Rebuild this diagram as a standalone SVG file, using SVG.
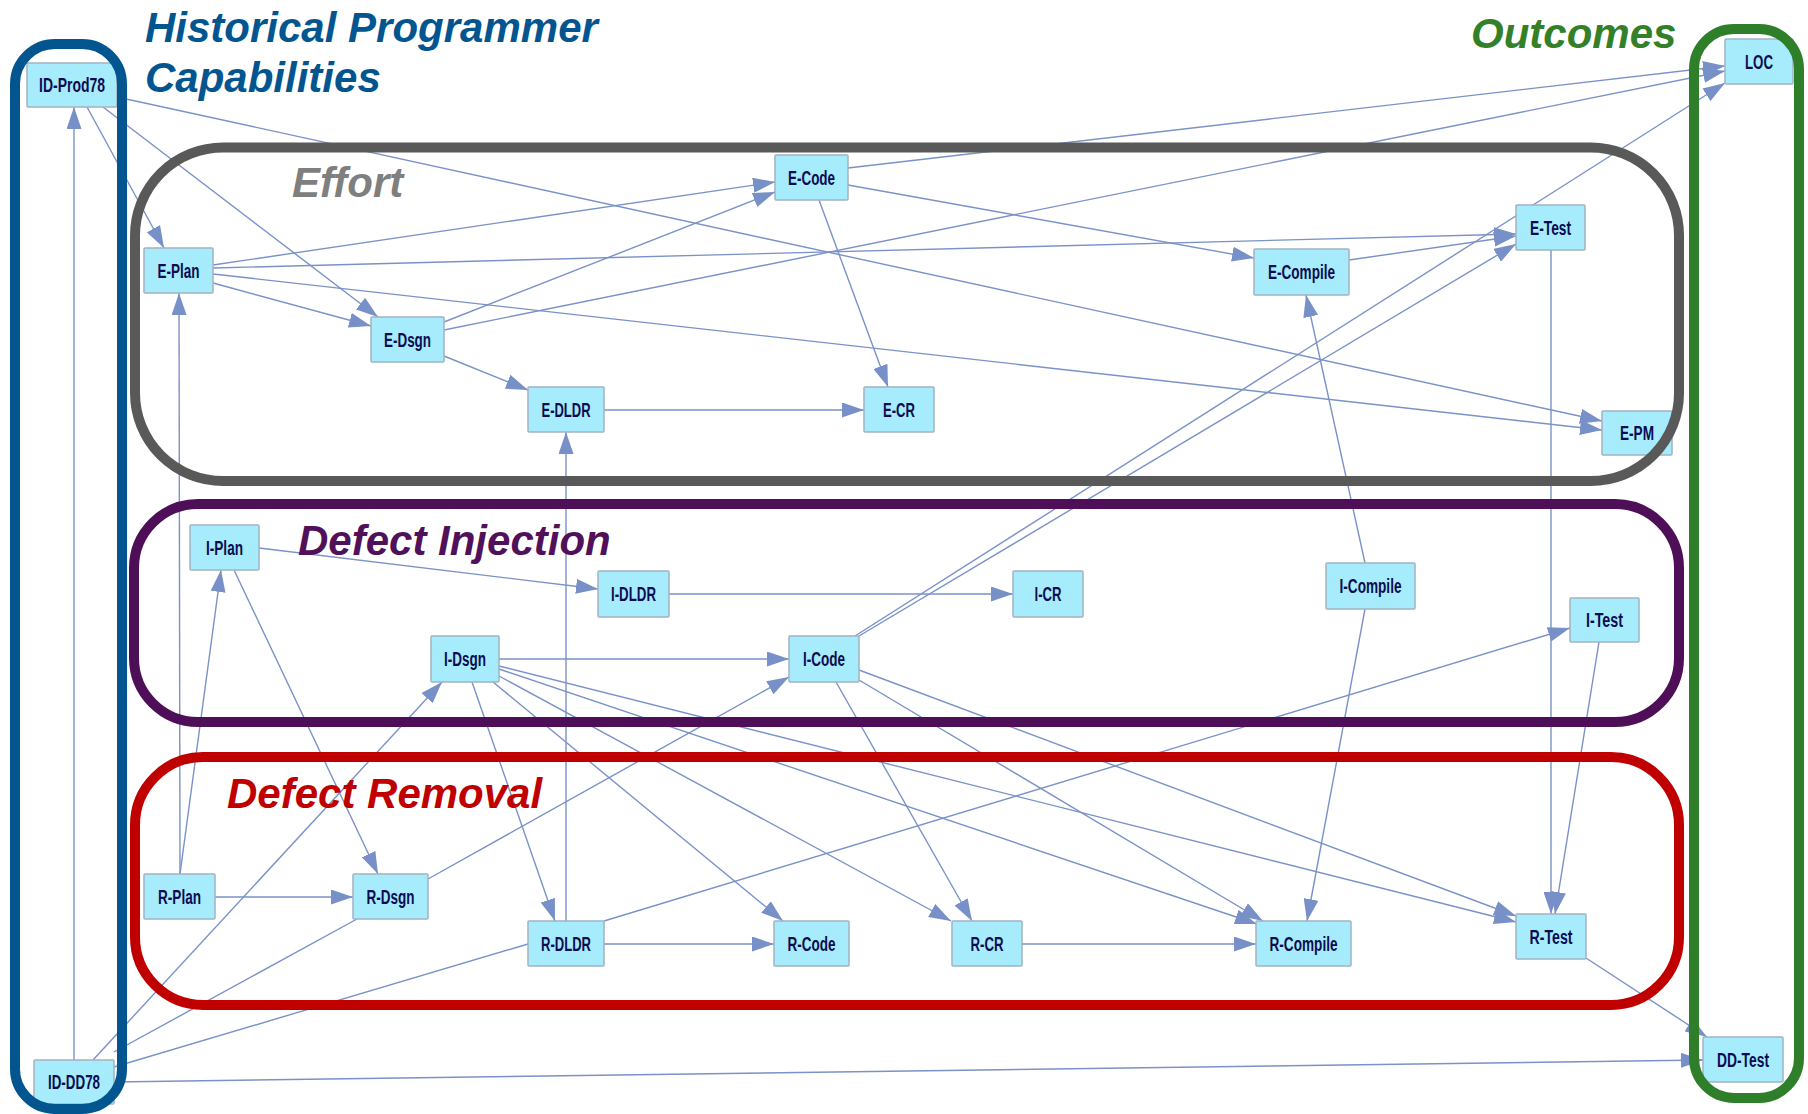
<svg xmlns="http://www.w3.org/2000/svg" width="1808" height="1114" viewBox="0 0 1808 1114">
  <style>
    .edge { stroke: #7a92c8; stroke-width: 1.4; fill: none; }
    .arr { marker-end: url(#ah); }
    .node rect { fill: #a6ecfd; stroke: #a3b3bf; stroke-width: 1.5; }
    .node text { font-family: "Liberation Sans Narrow", "Liberation Sans", Arial, sans-serif; font-weight: bold; font-size: 20px; fill: #0c0c52; text-anchor: middle; }
    .grp { fill: none; stroke-width: 10; }
    .title { font-family: "Liberation Sans", Arial, sans-serif; font-weight: bold; font-style: italic; font-size: 42px; }
  </style>
  <defs>
    <marker id="ah" markerUnits="userSpaceOnUse" markerWidth="22" markerHeight="15" refX="22" refY="7.5" orient="auto">
      <path d="M0,0 L22,7.5 L0,15 z" fill="#7890c8"/>
    </marker>
  </defs>
  <rect width="1808" height="1114" fill="#ffffff"/>

  <!-- dependency arcs -->
  <g id="connectors">
    <line class="edge arr" x1="74" y1="1060" x2="74" y2="107"/>
    <line class="edge arr" x1="87" y1="107" x2="164" y2="248"/>
    <line class="edge arr" x1="103" y1="107" x2="378" y2="317"/>
    <line class="edge arr" x1="117" y1="97" x2="1602" y2="421"/>
    <line class="edge arr" x1="213" y1="265" x2="775" y2="182"/>
    <line class="edge arr" x1="213" y1="268" x2="1516" y2="234"/>
    <line class="edge arr" x1="213" y1="274" x2="1602" y2="430"/>
    <line class="edge arr" x1="213" y1="283" x2="371" y2="326"/>
    <line class="edge arr" x1="444" y1="322" x2="775" y2="192"/>
    <line class="edge arr" x1="444" y1="330" x2="1725" y2="71"/>
    <line class="edge arr" x1="444" y1="356" x2="528" y2="390"/>
    <line class="edge arr" x1="848" y1="168" x2="1725" y2="66"/>
    <line class="edge arr" x1="848" y1="185" x2="1254" y2="258"/>
    <line class="edge arr" x1="819" y1="200" x2="888" y2="387"/>
    <line class="edge arr" x1="604" y1="410" x2="864" y2="410"/>
    <line class="edge arr" x1="1349" y1="260" x2="1516" y2="236"/>
    <line class="edge arr" x1="1551" y1="250" x2="1551" y2="914"/>
    <line class="edge arr" x1="1599" y1="642" x2="1555" y2="914"/>
    <line class="edge arr" x1="1365" y1="563" x2="1306" y2="295"/>
    <line class="edge arr" x1="1365" y1="609" x2="1307" y2="921"/>
    <line class="edge arr" x1="259" y1="548" x2="598" y2="589"/>
    <line class="edge arr" x1="234" y1="570" x2="378" y2="874"/>
    <line class="edge arr" x1="180" y1="874" x2="221" y2="570"/>
    <line class="edge arr" x1="180" y1="874" x2="179" y2="293"/>
    <line class="edge arr" x1="215" y1="897" x2="353" y2="897"/>
    <line class="edge arr" x1="428" y1="879" x2="789" y2="677"/>
    <line class="edge" x1="114" y1="1052" x2="357" y2="919"/>
    <line class="edge arr" x1="93" y1="1060" x2="442" y2="682"/>
    <line class="edge" x1="114" y1="1067" x2="528" y2="944"/>
    <line class="edge arr" x1="114" y1="1082" x2="1703" y2="1060"/>
    <line class="edge arr" x1="499" y1="659" x2="789" y2="659"/>
    <line class="edge arr" x1="472" y1="682" x2="555" y2="921"/>
    <line class="edge arr" x1="493" y1="682" x2="783" y2="921"/>
    <line class="edge arr" x1="499" y1="676" x2="951" y2="921"/>
    <line class="edge arr" x1="499" y1="669" x2="1257" y2="924"/>
    <line class="edge arr" x1="499" y1="666" x2="1516" y2="922"/>
    <line class="edge arr" x1="859" y1="636" x2="1516" y2="244"/>
    <line class="edge arr" x1="855" y1="636" x2="1725" y2="83"/>
    <line class="edge arr" x1="836" y1="682" x2="972" y2="921"/>
    <line class="edge arr" x1="859" y1="680" x2="1263" y2="921"/>
    <line class="edge arr" x1="859" y1="670" x2="1516" y2="916"/>
    <line class="edge arr" x1="669" y1="594" x2="1013" y2="594"/>
    <line class="edge arr" x1="566" y1="921" x2="566" y2="432"/>
    <line class="edge arr" x1="604" y1="944" x2="774" y2="944"/>
    <line class="edge arr" x1="604" y1="921" x2="1570" y2="628"/>
    <line class="edge arr" x1="1022" y1="944" x2="1256" y2="944"/>
    <line class="edge arr" x1="1586" y1="958" x2="1707" y2="1037"/>
  </g>

  <!-- variables -->
  <g id="ID-Prod78" class="node"><rect x="27" y="63" width="90" height="44" rx="1"/><text x="72" y="92" textLength="66" lengthAdjust="spacingAndGlyphs">ID-Prod78</text></g>
  <g id="E-Plan" class="node"><rect x="144" y="248" width="69" height="45" rx="1"/><text x="178.5" y="277.5" textLength="42" lengthAdjust="spacingAndGlyphs">E-Plan</text></g>
  <g id="E-Dsgn" class="node"><rect x="371" y="317" width="73" height="45" rx="1"/><text x="407.5" y="346.5" textLength="47" lengthAdjust="spacingAndGlyphs">E-Dsgn</text></g>
  <g id="E-Code" class="node"><rect x="775" y="155" width="73" height="45" rx="1"/><text x="811.5" y="184.5" textLength="47" lengthAdjust="spacingAndGlyphs">E-Code</text></g>
  <g id="E-DLDR" class="node"><rect x="528" y="387" width="76" height="45" rx="1"/><text x="566" y="416.5" textLength="49" lengthAdjust="spacingAndGlyphs">E-DLDR</text></g>
  <g id="E-CR" class="node"><rect x="864" y="387" width="70" height="45" rx="1"/><text x="899" y="416.5" textLength="32" lengthAdjust="spacingAndGlyphs">E-CR</text></g>
  <g id="E-Compile" class="node"><rect x="1254" y="249" width="95" height="46" rx="1"/><text x="1301.5" y="279" textLength="67" lengthAdjust="spacingAndGlyphs">E-Compile</text></g>
  <g id="E-Test" class="node"><rect x="1516" y="205" width="69" height="45" rx="1"/><text x="1550.5" y="234.5" textLength="41" lengthAdjust="spacingAndGlyphs">E-Test</text></g>
  <g id="E-PM" class="node"><rect x="1602" y="411" width="70" height="44" rx="1"/><text x="1637" y="440" textLength="34" lengthAdjust="spacingAndGlyphs">E-PM</text></g>
  <g id="LOC" class="node"><rect x="1725" y="39" width="68" height="45" rx="1"/><text x="1759" y="68.5" textLength="28" lengthAdjust="spacingAndGlyphs">LOC</text></g>
  <g id="I-Plan" class="node"><rect x="190" y="525" width="69" height="45" rx="1"/><text x="224.5" y="554.5" textLength="37" lengthAdjust="spacingAndGlyphs">I-Plan</text></g>
  <g id="I-DLDR" class="node"><rect x="598" y="571" width="71" height="46" rx="1"/><text x="633.5" y="601" textLength="45" lengthAdjust="spacingAndGlyphs">I-DLDR</text></g>
  <g id="I-CR" class="node"><rect x="1013" y="571" width="70" height="46" rx="1"/><text x="1048" y="601" textLength="27" lengthAdjust="spacingAndGlyphs">I-CR</text></g>
  <g id="I-Compile" class="node"><rect x="1326" y="563" width="89" height="46" rx="1"/><text x="1370.5" y="593" textLength="62" lengthAdjust="spacingAndGlyphs">I-Compile</text></g>
  <g id="I-Test" class="node"><rect x="1570" y="598" width="69" height="44" rx="1"/><text x="1604.5" y="627" textLength="37" lengthAdjust="spacingAndGlyphs">I-Test</text></g>
  <g id="I-Dsgn" class="node"><rect x="431" y="636" width="68" height="46" rx="1"/><text x="465" y="666" textLength="42" lengthAdjust="spacingAndGlyphs">I-Dsgn</text></g>
  <g id="I-Code" class="node"><rect x="789" y="636" width="70" height="46" rx="1"/><text x="824" y="666" textLength="42" lengthAdjust="spacingAndGlyphs">I-Code</text></g>
  <g id="R-Plan" class="node"><rect x="144" y="874" width="71" height="45" rx="1"/><text x="179.5" y="903.5" textLength="43" lengthAdjust="spacingAndGlyphs">R-Plan</text></g>
  <g id="R-Dsgn" class="node"><rect x="353" y="874" width="75" height="45" rx="1"/><text x="390.5" y="903.5" textLength="48" lengthAdjust="spacingAndGlyphs">R-Dsgn</text></g>
  <g id="R-DLDR" class="node"><rect x="528" y="921" width="76" height="45" rx="1"/><text x="566" y="950.5" textLength="50" lengthAdjust="spacingAndGlyphs">R-DLDR</text></g>
  <g id="R-Code" class="node"><rect x="774" y="921" width="75" height="45" rx="1"/><text x="811.5" y="950.5" textLength="48" lengthAdjust="spacingAndGlyphs">R-Code</text></g>
  <g id="R-CR" class="node"><rect x="952" y="921" width="70" height="45" rx="1"/><text x="987" y="950.5" textLength="33" lengthAdjust="spacingAndGlyphs">R-CR</text></g>
  <g id="R-Compile" class="node"><rect x="1256" y="921" width="95" height="45" rx="1"/><text x="1303.5" y="950.5" textLength="68" lengthAdjust="spacingAndGlyphs">R-Compile</text></g>
  <g id="R-Test" class="node"><rect x="1516" y="914" width="70" height="45" rx="1"/><text x="1551" y="943.5" textLength="43" lengthAdjust="spacingAndGlyphs">R-Test</text></g>
  <g id="DD-Test" class="node"><rect x="1703" y="1037" width="80" height="45" rx="1"/><text x="1743" y="1066.5" textLength="52" lengthAdjust="spacingAndGlyphs">DD-Test</text></g>
  <g id="ID-DD78" class="node"><rect x="34" y="1060" width="80" height="44" rx="1"/><text x="74" y="1089" textLength="52" lengthAdjust="spacingAndGlyphs">ID-DD78</text></g>

  <!-- category outlines -->
  <g id="groups">
    <rect class="grp" x="15" y="44" width="107" height="1065" rx="40" stroke="#03558f"/>
    <rect class="grp" x="1694" y="29" width="105" height="1069" rx="40" stroke="#2f7f2a"/>
    <rect class="grp" x="135" y="147.5" width="1544" height="333.5" rx="88" stroke="#595959"/>
    <rect class="grp" x="134" y="504" width="1545" height="218" rx="64" stroke="#4f0f58"/>
    <rect class="grp" x="135" y="757" width="1544" height="248" rx="68" stroke="#c00000"/>
  </g>

  <!-- category titles -->
  <g id="titles">
    <text class="title" x="145" y="42" fill="#03558f">Historical Programmer</text>
    <text class="title" x="145" y="92" fill="#03558f">Capabilities</text>
    <text class="title" x="1471" y="48" fill="#338028">Outcomes</text>
    <text class="title" x="292" y="197" fill="#7f7f7f">Effort</text>
    <text class="title" x="298" y="555" fill="#50105a">Defect Injection</text>
    <text class="title" x="227" y="808" fill="#c00000">Defect Removal</text>
  </g>
</svg>
